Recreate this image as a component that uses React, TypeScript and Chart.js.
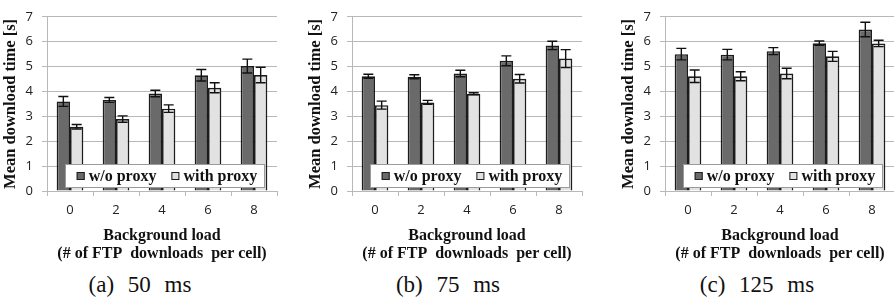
import React, { useEffect, useRef } from 'react';
import { Chart, registerables } from 'chart.js';

Chart.register(...registerables);

// ---- data ----
const categories = ['0', '2', '4', '6', '8'];
const seriesNames = ['w/o proxy', 'with proxy'];
const panelCaptions = ['(a) 50 ms', '(b) 75 ms', '(c) 125 ms'];
const yAxisTitle = 'Mean download time [s]';
const xAxisTitle = ['Background load', '(# of FTP  downloads  per cell)'];
const yMin = 0;
const yMax = 7;

const woProxy50 = [3.6, 3.66, 3.92, 4.65, 5.02];
const woProxy50Err = [0.2, 0.1, 0.13, 0.23, 0.28];
const withProxy50 = [2.58, 2.89, 3.31, 4.15, 4.66];
const withProxy50Err = [0.09, 0.13, 0.15, 0.2, 0.31];

const woProxy75 = [4.61, 4.59, 4.72, 5.23, 5.85];
const woProxy75Err = [0.08, 0.08, 0.13, 0.2, 0.17];
const withProxy75 = [3.45, 3.56, 3.91, 4.51, 5.32];
const withProxy75Err = [0.16, 0.08, 0.04, 0.17, 0.36];

const woProxy125 = [5.5, 5.48, 5.62, 5.94, 6.49];
const woProxy125Err = [0.23, 0.21, 0.14, 0.09, 0.29];
const withProxy125 = [4.61, 4.61, 4.72, 5.41, 5.93];
const withProxy125Err = [0.25, 0.18, 0.21, 0.2, 0.13];

// ---- styles ----
const DARK = '#6a6a6a';
const LIGHT = '#e2e2e2';
const EDGE = '#1c1c1c';
const GRID = '#b8b8b8';
const SERIF_BOLD = { family: '"Liberation Serif", "Times New Roman", serif', size: 16, weight: 'bold' as const };
const SANS = { family: '"Open Sans", "DejaVu Sans", sans-serif', size: 13 };

const errorBarPlugin = {
  id: 'errorBars',
  afterDatasetsDraw(chart: any) {
    const { ctx } = chart;
    const yScale = chart.scales.y;
    ctx.save();
    ctx.strokeStyle = '#111';
    ctx.lineWidth = 1.4;
    chart.data.datasets.forEach((ds: any, i: number) => {
      const meta = chart.getDatasetMeta(i);
      meta.data.forEach((el: any, j: number) => {
        const v = ds.data[j];
        const e = ds.errors[j];
        const x = el.x;
        const yT = yScale.getPixelForValue(v + e);
        const yB = yScale.getPixelForValue(v - e);
        const hw = 5;
        ctx.beginPath();
        ctx.moveTo(x, yT);
        ctx.lineTo(x, yB);
        ctx.moveTo(x - hw, yT);
        ctx.lineTo(x + hw, yT);
        ctx.moveTo(x - hw, yB);
        ctx.lineTo(x + hw, yB);
        ctx.stroke();
      });
    });
    ctx.restore();
  },
};

const insideLegendPlugin = {
  id: 'insideLegend',
  afterDatasetsDraw(chart: any) {
    const { ctx, chartArea } = chart;
    const left = chartArea.left + 18;
    const right = chartArea.right - 12;
    const bottom = chartArea.bottom - 3;
    const top = bottom - 24;
    ctx.save();
    ctx.fillStyle = '#ffffff';
    ctx.fillRect(left, top, right - left, bottom - top);
    ctx.strokeStyle = '#9a9a9a';
    ctx.lineWidth = 1;
    ctx.strokeRect(left + 0.5, top + 0.5, right - left - 1, bottom - top - 1);
    ctx.font = `bold ${SERIF_BOLD.size}px ${SERIF_BOLD.family}`;
    ctx.textBaseline = 'middle';
    const sq = 8;
    const gap = 4;
    const spacing = 15;
    const dss = chart.data.datasets;
    const widths = dss.map((d: any) => ctx.measureText(d.label).width);
    const total = widths.reduce((a: number, w: number) => a + sq + gap + w, 0) + spacing * (dss.length - 1);
    let x = (left + right) / 2 - total / 2 + 2;
    const cy = (top + bottom) / 2;
    dss.forEach((d: any, i: number) => {
      ctx.fillStyle = d.backgroundColor;
      ctx.fillRect(x, cy - sq / 2, sq, sq);
      ctx.strokeStyle = EDGE;
      ctx.lineWidth = 1;
      ctx.strokeRect(x + 0.5, cy - sq / 2 + 0.5, sq - 1, sq - 1);
      ctx.fillStyle = '#111';
      ctx.textAlign = 'left';
      ctx.fillText(d.label, x + sq + gap, cy + 1);
      x += sq + gap + widths[i] + spacing;
    });
    ctx.restore();
  },
};

type PanelProps = {
  left: number;
  a: number[];
  aErr: number[];
  b: number[];
  bErr: number[];
};

function Panel({ left, a, aErr, b, bErr }: PanelProps) {
  const ref = useRef<HTMLCanvasElement | null>(null);
  useEffect(() => {
    if (!ref.current) return;
    const chart = new Chart(ref.current, {
      type: 'bar',
      data: {
        labels: categories,
        datasets: [
          {
            label: seriesNames[0],
            data: a,
            errors: aErr,
            backgroundColor: DARK,
            borderColor: EDGE,
            borderWidth: 1.7,
            categoryPercentage: 0.58,
            barPercentage: 1.0,
          } as any,
          {
            label: seriesNames[1],
            data: b,
            errors: bErr,
            backgroundColor: LIGHT,
            borderColor: EDGE,
            borderWidth: 1.7,
            categoryPercentage: 0.58,
            barPercentage: 1.0,
          } as any,
        ],
      },
      options: {
        responsive: false,
        animation: false,
        layout: { padding: { left: 0, top: 12, right: 23, bottom: 0 } },
        plugins: {
          legend: { display: false },
          tooltip: { enabled: false },
          title: { display: false },
        },
        scales: {
          x: {
            grid: {
              display: true,
              drawOnChartArea: false,
              drawTicks: true,
              tickLength: 5,
              color: GRID,
              offset: true,
            },
            border: { display: true, color: GRID, width: 1 },
            ticks: { color: '#222', font: SANS, padding: 6 },
            title: {
              display: true,
              text: xAxisTitle,
              color: '#111',
              font: { ...SERIF_BOLD, lineHeight: 1.125 },
              padding: { top: 0, bottom: 7 },
            },
            afterFit(scale: any) {
              scale.height = 79;
            },
          },
          y: {
            min: yMin,
            max: yMax,
            ticks: { stepSize: 1, color: '#222', font: SANS, padding: 9 },
            grid: { color: GRID, tickLength: 5, lineWidth: 1 },
            border: { display: true, color: GRID },
            title: {
              display: true,
              text: yAxisTitle,
              color: '#111',
              font: { ...SERIF_BOLD, size: 16.5, lineHeight: 1.2 },
              padding: { top: 1, bottom: 0 },
            },
            afterFit(scale: any) {
              scale.width = 47;
            },
          },
        },
      },
      plugins: [errorBarPlugin, insideLegendPlugin],
    });
    return () => chart.destroy();
  }, []);
  return (
    <canvas
      ref={ref}
      width={300}
      height={270}
      style={{ position: 'absolute', left, top: 0, width: 300, height: 270 }}
    />
  );
}

const captionStyle = (cx: number): React.CSSProperties => ({
  position: 'absolute',
  left: cx - 80,
  width: 160,
  top: 270,
  textAlign: 'center',
  fontFamily: '"Liberation Serif", "Times New Roman", serif',
  fontSize: 23,
  lineHeight: '30px',
  wordSpacing: 8,
  color: '#111',
  whiteSpace: 'pre',
});

export default function App() {
  return (
    <div
      style={{
        position: 'absolute',
        left: 0,
        top: 0,
        width: 894,
        height: 298,
        overflow: 'hidden',
        background: '#fff',
      }}
    >
      <Panel left={0} a={woProxy50} aErr={woProxy50Err} b={withProxy50} bErr={withProxy50Err} />
      <Panel left={305} a={woProxy75} aErr={woProxy75Err} b={withProxy75} bErr={withProxy75Err} />
      <Panel left={618} a={woProxy125} aErr={woProxy125Err} b={withProxy125} bErr={withProxy125Err} />
      <div style={captionStyle(140)}>{panelCaptions[0]}</div>
      <div style={captionStyle(448)}>{panelCaptions[1]}</div>
      <div style={captionStyle(757)}>{panelCaptions[2]}</div>
    </div>
  );
}
